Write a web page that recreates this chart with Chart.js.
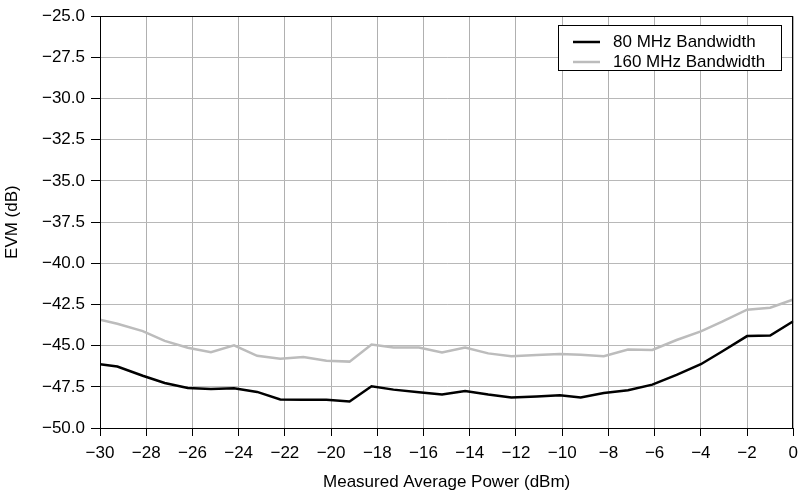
<!DOCTYPE html>
<html><head><meta charset="utf-8">
<script src="https://cdn.jsdelivr.net/npm/chart.js@4/dist/chart.umd.min.js"></script>
<style>html,body{margin:0;padding:0;background:#fff}#wrap{width:805px;height:496px}</style>
</head><body><div id="wrap"><canvas id="c" width="805" height="496"></canvas></div>
<script>
const measuredPower = [-30, -29.25, -28.15, -27.2, -26.2, -25.2, -24.2, -23.2, -22.2, -21.2, -20.2, -19.2, -18.25, -17.3, -16.2, -15.2, -14.2, -13.2, -12.2, -11.1, -10.1, -9.2, -8.2, -7.15, -6.1, -5.05, -4.0, -3.1, -2.0, -1.0, 0];
const evm80 = [-46.13, -46.27, -46.83, -47.27, -47.57, -47.63, -47.59, -47.81, -48.27, -48.28, -48.29, -48.39, -47.47, -47.67, -47.83, -47.97, -47.75, -47.97, -48.15, -48.09, -48.01, -48.15, -47.87, -47.71, -47.37, -46.77, -46.13, -45.37, -44.42, -44.39, -43.52];
const evm160 = [-43.43, -43.67, -44.12, -44.71, -45.13, -45.40, -44.98, -45.62, -45.80, -45.69, -45.91, -45.97, -44.93, -45.11, -45.11, -45.41, -45.11, -45.47, -45.65, -45.57, -45.51, -45.55, -45.64, -45.23, -45.26, -44.66, -44.13, -43.56, -42.82, -42.70, -42.20];
const seriesLabels = ['80 MHz Bandwidth', '160 MHz Bandwidth'];
const xTickValues = [-30, -28, -26, -24, -22, -20, -18, -16, -14, -12, -10, -8, -6, -4, -2, 0];
const yTickValues = [-50, -47.5, -45, -42.5, -40, -37.5, -35, -32.5, -30, -27.5, -25];
const xTitle = 'Measured Average Power (dBm)';
const yTitle = 'EVM (dB)';

const FONT = '"Liberation Sans", Arial, sans-serif';
const minus = s => s.replace('-', '\u2212');

const framePlugin = {
  id: 'frame',
  afterDatasetsDraw(chart) {
    const {ctx, chartArea: a} = chart;
    ctx.save();
    ctx.strokeStyle = '#000';
    ctx.lineWidth = 1;
    ctx.strokeRect(Math.round(a.left) + 0.5, Math.round(a.top) + 0.5, Math.round(a.right - a.left) - 1, Math.round(a.bottom - a.top));
    ctx.restore();
  }
};

const legendPlugin = {
  id: 'boxLegend',
  afterDraw(chart) {
    const {ctx} = chart;
    const x0 = 558.5, y0 = 25.5, w = 223, h = 45;
    ctx.save();
    ctx.fillStyle = '#fff';
    ctx.fillRect(x0, y0, w, h);
    ctx.strokeStyle = '#000';
    ctx.lineWidth = 1;
    ctx.strokeRect(x0, y0, w, h);
    ctx.font = '17px ' + FONT;
    ctx.textBaseline = 'middle';
    chart.data.datasets.forEach((ds, i) => {
      const y = 42 + i * 20;
      ctx.strokeStyle = ds.borderColor;
      ctx.lineWidth = ds.borderWidth;
      ctx.beginPath();
      ctx.moveTo(573, y);
      ctx.lineTo(600, y);
      ctx.stroke();
      ctx.fillStyle = '#000';
      ctx.fillText(ds.label, 613, y);
    });
    ctx.restore();
  }
};

new Chart(document.getElementById('c'), {
  type: 'line',
  data: {
    datasets: [
      {label: seriesLabels[0], data: measuredPower.map((x, i) => ({x, y: evm80[i]})), borderColor: '#000000', borderWidth: 2.5, pointRadius: 0, tension: 0, fill: false},
      {label: seriesLabels[1], data: measuredPower.map((x, i) => ({x, y: evm160[i]})), borderColor: '#bcbcbc', borderWidth: 2.5, pointRadius: 0, tension: 0, fill: false}
    ]
  },
  options: {
    responsive: false,
    animation: false,
    devicePixelRatio: 1,
    layout: {padding: {left: 0, right: 11, top: 12, bottom: 0}},
    plugins: {legend: {display: false}, tooltip: {enabled: false}},
    scales: {
      x: {
        type: 'linear', min: -30, max: 0,
        afterBuildTicks: s => { s.ticks = xTickValues.map(v => ({value: v})); },
        afterFit: s => { s.height = 68; },
        grid: {color: '#b0b0b0', lineWidth: 1, tickLength: 8, tickColor: '#000', drawTicks: true},
        border: {display: true, color: '#000', width: 1},
        ticks: {color: '#000', font: {family: FONT, size: 17}, padding: 7, maxRotation: 0, autoSkip: false,
          callback: v => minus(String(v))},
        title: {display: true, text: xTitle, color: '#000', font: {family: FONT, size: 17}, padding: {top: 0, bottom: 3}}
      },
      y: {
        type: 'linear', min: -50, max: -25,
        afterBuildTicks: s => { s.ticks = yTickValues.map(v => ({value: v})); },
        afterFit: s => { s.width = 100; },
        grid: {color: '#b8b8b8', lineWidth: 1, tickLength: 9, tickColor: '#000', drawTicks: true},
        border: {display: true, color: '#000', width: 1},
        ticks: {color: '#000', font: {family: FONT, size: 17}, padding: 6, autoSkip: false,
          callback: v => minus(Number(v).toFixed(1))},
        title: {display: true, text: yTitle, color: '#000', font: {family: FONT, size: 17}, padding: {top: 2, bottom: 0}}
      }
    }
  },
  plugins: [framePlugin, legendPlugin]
});
</script>
</body></html>
